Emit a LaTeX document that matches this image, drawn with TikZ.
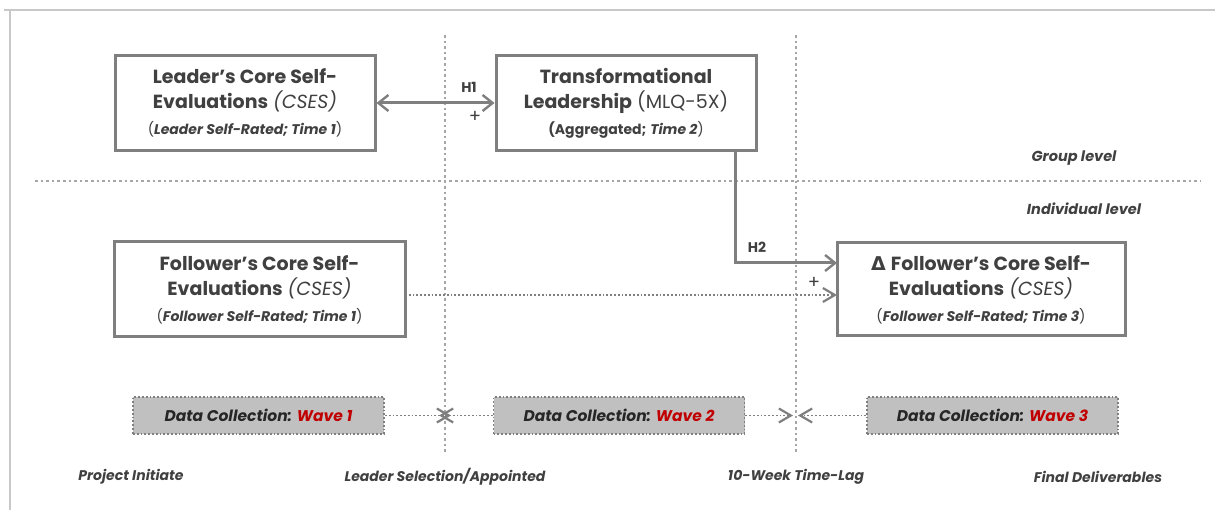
\documentclass[tikz,border=0pt]{standalone}
\usepackage{fontspec}
\setmainfont{Poppins}
\newfontfamily\symfont{DejaVu Sans}
\usetikzlibrary{arrows.meta}

\definecolor{boxline}{HTML}{7F7F7F}
\definecolor{boxtext}{HTML}{404040}
\definecolor{guide}{HTML}{A6A6A6}
\definecolor{frame}{HTML}{C8C8C8}
\definecolor{wavefill}{HTML}{C0C0C0}
\definecolor{wavered}{HTML}{C00000}

\tikzset{
  construct/.style={draw=boxline, line width=3pt, fill=white, inner sep=0pt,
    align=center, text=boxtext, font=\fontsize{19}{25}\selectfont},
  wavebox/.style={draw=boxline, line width=1.8pt, dotted, fill=wavefill,
    inner sep=0pt, minimum height=37pt, minimum width=251pt,
    text=black!85, font=\fontsize{15.5}{18}\selectfont\bfseries\itshape},
  guideline/.style={draw=guide, line width=2.6pt, dash pattern=on 2.6pt off 3pt},
  chev/.tip={Straight Barb[length=10pt, width=16pt, line width=2.4pt]},
  flatchev/.tip={Straight Barb[length=12pt, width=14pt, line width=2.2pt]},
  solidlink/.style={draw=boxline, line width=3pt},
  dotlink/.style={draw=boxline, line width=1.8pt, dotted},
  phase/.style={text=boxtext, font=\fontsize{14}{16}\selectfont\bfseries\itshape},
  levellabel/.style={text=boxtext, font=\fontsize{14.5}{16}\selectfont\bfseries\itshape},
  hlabel/.style={text=boxtext, font=\fontsize{14}{16}\selectfont\bfseries},
  sign/.style={text=boxtext, font=\fontsize{18}{20}\selectfont}
}

\newcommand{\subsize}{\fontsize{14}{16}\selectfont}

\begin{document}
\begin{tikzpicture}[x=1pt, y=-1pt]
\useasboundingbox (0,0) rectangle (1215,510);

% outer frame (top and left edges)
\draw[frame, line width=2pt] (4,10) -- (1215,10);
\draw[frame, line width=2pt] (10,10) -- (10,510);

% time-phase guides and level divider
\draw[guideline] (445,35) -- (445,452);
\draw[guideline] (796,35) -- (796,452);
\draw[guideline] (35,181) -- (1200,181);

% constructs
\node[construct, minimum width=260pt, minimum height=95pt] (lead) at (245,103)
  {\textbf{Leader’s Core Self-}\\
   \textbf{Evaluations} \textit{(CSES)}\\[1pt]
   {\subsize (\textbf{\textit{Leader Self-Rated; Time 1}})}};

\node[construct, minimum width=260pt, minimum height=95pt] (tfl) at (626,103)
  {\textbf{Transformational}\\
   \textbf{Leadership} (MLQ-5X)\\[1pt]
   {\subsize \textbf{(Aggregated;} \textbf{\textit{Time 2}})}};

\node[construct, minimum width=291pt, minimum height=95pt] (foll) at (259.5,289.5)
  {\textbf{Follower’s Core Self-}\\
   \textbf{Evaluations} \textit{(CSES)}\\[1pt]
   {\subsize (\textbf{\textit{Follower Self-Rated; Time 1}})}};

\node[construct, minimum width=288pt, minimum height=93pt] (dfoll) at (981,289.5)
  {{\symfont\bfseries Δ} \textbf{Follower’s Core Self-}\\
   \textbf{Evaluations} \textit{(CSES)}\\[1pt]
   {\subsize (\textbf{\textit{Follower Self-Rated; Time 3}})}};

% hypotheses
\draw[solidlink, {chev}-{chev}] (lead.east) -- (tfl.west);
\node[hlabel] (h1) at (469,87) {H1};
\node[sign] (p1) at (475,117) {+};

\coordinate (h2top) at (735,151);
\coordinate (h2bend) at (735,263);
\coordinate (h2end) at (837,263);
\draw[solidlink, -{chev}] (h2top) -- (h2bend) -- (h2end);
\node[hlabel] (h2) at (757,247) {H2};
\node[sign] (p2) at (814,283) {+};

\coordinate (ctrlstart) at (405,295);
\coordinate (ctrlend) at (837,295);
\draw[dotlink, -{flatchev}] (ctrlstart) -- (ctrlend);

% data collection waves
\node[wavebox] (w1) at (258.5,415.5) {Data Collection: \textcolor{wavered}{Wave 1}};
\node[wavebox] (w2) at (619,415.5) {Data Collection: \textcolor{wavered}{Wave 2}};
\node[wavebox] (w3) at (992.5,415.5) {Data Collection: \textcolor{wavered}{Wave 3}};

% wave hand-overs: the first pair of tips cross on the guide, the second pair meets it
\coordinate (m12a) at (451,415.5);
\coordinate (m12b) at (439,415.5);
\coordinate (m23a) at (793,415.5);
\coordinate (m23b) at (798,415.5);
\draw[dotlink, -{flatchev}] (w1.east) -- (m12a);
\draw[dotlink, -{flatchev}] (w2.west) -- (m12b);
\draw[dotlink, -{flatchev}] (w2.east) -- (m23a);
\draw[dotlink, -{flatchev}] (w3.west) -- (m23b);

% level labels
\node[levellabel] (grp) at (1074,158) {Group level};
\node[levellabel] (ind) at (1084,209) {Individual level};

% phase labels
\node[phase] (ph1) at (131,477) {Project Initiate};
\node[phase] (ph2) at (445,477) {Leader Selection/Appointed};
\node[phase] (ph3) at (796,477) {10-Week Time-Lag};
\node[phase] (ph4) at (1098,477) {Final Deliverables};
\end{tikzpicture}
\end{document}
